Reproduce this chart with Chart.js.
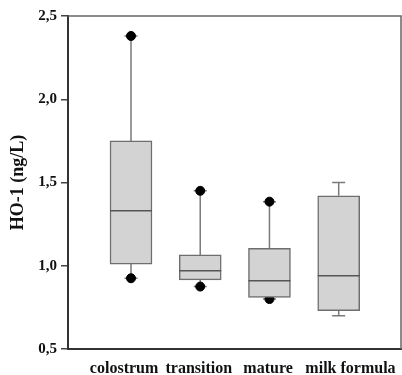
<!DOCTYPE html>
<html>
<head>
<meta charset="utf-8">
<script src="https://cdn.jsdelivr.net/npm/chart.js@4.4.1/dist/chart.umd.min.js"></script>
<style>
  html, body { margin: 0; padding: 0; background: #fff; }
  canvas { display: block; }
</style>
</head>
<body>
<canvas id="chart" width="402" height="375"></canvas>
<script>
/* ─── Data ───────────────────────────────────────────────────────────────── */
const categories  = ['colostrum', 'transition', 'mature', 'milk formula'];
const boxLow      = [1.01, 0.915, 0.81, 0.73];   // 25th percentile
const boxMedian   = [1.33, 0.97, 0.91, 0.94];
const boxHigh     = [1.75, 1.065, 1.105, 1.42];  // 75th percentile
const whiskerLow  = [0.925, 0.875, 0.80, 0.70];
const whiskerHigh = [2.38, 1.45, 1.385, 1.50];
const dotLow      = [0.925, 0.875, 0.80, null];
const dotHigh     = [2.38, 1.45, 1.385, null];
const yTicks      = [0.5, 1.0, 1.5, 2.0, 2.5];

const serif = '"Times New Roman", "Liberation Serif", Tinos, serif';
// the original labels sit a little off their boxes (style, not data)
const labelNudge = [-0.1, -0.02, -0.02, 0.17];

/* ─── Whiskers (under the boxes) and medians (over them) ─────────────────── */
const boxPlot = {
  id: 'boxPlot',
  beforeDatasetsDraw(chart) {
    const { ctx, scales: { x, y } } = chart;
    ctx.save();
    ctx.strokeStyle = '#7a7a7a';
    ctx.lineWidth = 1.5;
    categories.forEach((_, i) => {
      const cx = x.getPixelForValue(i);
      const ends = [[boxHigh[i], whiskerHigh[i]], [boxLow[i], whiskerLow[i]]];
      ends.forEach(([from, to]) => {
        ctx.beginPath();
        ctx.moveTo(cx, y.getPixelForValue(from));
        ctx.lineTo(cx, y.getPixelForValue(to));
        ctx.moveTo(cx - 6.5, y.getPixelForValue(to));
        ctx.lineTo(cx + 6.5, y.getPixelForValue(to));
        ctx.stroke();
      });
    });
    ctx.restore();
  },
  afterDatasetsDraw(chart) {
    const { ctx, chartArea: a, scales: { x, y } } = chart;
    ctx.save();
    ctx.strokeStyle = '#555';
    ctx.lineWidth = 1.5;
    categories.forEach((_, i) => {
      const cx = x.getPixelForValue(i);
      const my = y.getPixelForValue(boxMedian[i]);
      ctx.beginPath();
      ctx.moveTo(cx - 21, my);
      ctx.lineTo(cx + 21, my);
      ctx.stroke();
    });
    /* top and right frame */
    ctx.strokeStyle = '#666';
    ctx.lineWidth = 1.5;
    ctx.beginPath();
    ctx.moveTo(a.left, a.top);
    ctx.lineTo(a.right, a.top);
    ctx.lineTo(a.right, a.bottom);
    ctx.stroke();
    ctx.restore();
  }
};

/* ─── Chart ──────────────────────────────────────────────────────────────── */
const dots = [];
categories.forEach((_, i) => {
  if (dotLow[i] != null)  dots.push({ x: i, y: dotLow[i] });
  if (dotHigh[i] != null) dots.push({ x: i, y: dotHigh[i] });
});

new Chart(document.getElementById('chart'), {
  type: 'bar',
  data: {
    datasets: [
      {
        label: 'IQR',
        data: categories.map((_, i) => ({ x: i, y: [boxLow[i], boxHigh[i]] })),
        backgroundColor: '#d3d3d3',
        borderColor: '#6e6e6e',
        borderWidth: 1.5,
        borderSkipped: false,
        barThickness: 42
      },
      {
        type: 'scatter',
        label: 'extremes',
        data: dots,
        backgroundColor: '#000',
        borderColor: '#000',
        pointRadius: 4.5,
        pointHoverRadius: 4.5
      }
    ]
  },
  options: {
    responsive: false,
    animation: false,
    events: [],
    layout: { autoPadding: false, padding: { top: 16, right: 1, left: 0, bottom: 0 } },
    plugins: {
      legend: { display: false },
      tooltip: { enabled: false }
    },
    scales: {
      x: {
        type: 'linear',
        offset: false,
        min: -0.91,
        max: 3.9,
        afterBuildTicks: s => { s.ticks = categories.map((_, i) => ({ value: i + labelNudge[i] })); },
        afterFit: s => { s.height = 26; s.paddingLeft = 0; s.paddingRight = 0; },
        grid: { display: false },
        border: { display: true, color: '#333', width: 2 },
        ticks: {
          autoSkip: false,
          maxRotation: 0,
          minRotation: 0,
          padding: 2,
          color: '#111',
          font: { family: serif, size: 16, weight: 'bold' },
          callback: v => categories[Math.round(v)] ?? ''
        }
      },
      y: {
        min: 0.5,
        max: 2.5,
        afterBuildTicks: s => { s.ticks = yTicks.map(v => ({ value: v })); },
        afterFit: s => { s.width = 68; s.paddingTop = 0; s.paddingBottom = 0; },
        grid: { drawOnChartArea: false, drawTicks: true, tickLength: 7, color: '#444', lineWidth: 1.5 },
        border: { display: true, color: '#333', width: 2 },
        ticks: {
          padding: 4,
          color: '#111',
          font: { family: serif, size: 15, weight: 'bold' },
          callback: v => v.toFixed(1).replace('.', ',')
        },
        title: {
          display: true,
          text: 'HO-1 (ng/L)',
          color: '#111',
          padding: { top: 8, bottom: 0 },
          font: { family: serif, size: 18, weight: 'bold' }
        }
      }
    }
  },
  plugins: [boxPlot]
});
</script>
</body>
</html>
